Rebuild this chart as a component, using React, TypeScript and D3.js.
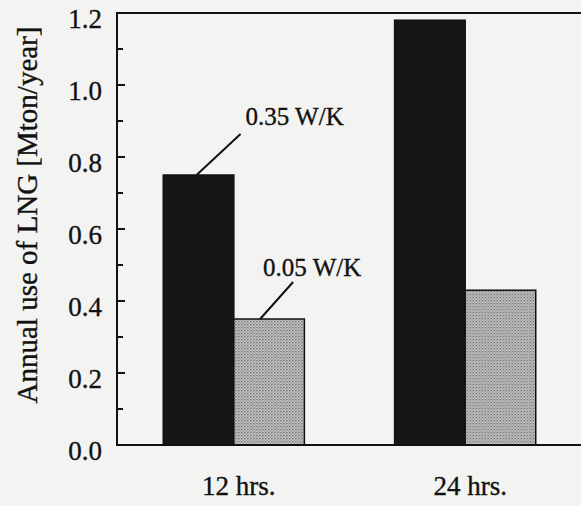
import React, { useEffect, useRef } from 'react'
import * as d3 from 'd3'

const categories = ['12 hrs.', '24 hrs.']
const seriesNames = ['0.35 W/K', '0.05 W/K']
const highK = [0.75, 1.18]
const lowK = [0.35, 0.43]
const yTicks = [0, 0.2, 0.4, 0.6, 0.8, 1.0, 1.2]
const yMinorTicks = [0.1, 0.3, 0.5, 0.7, 0.9, 1.1]

const W = 581
const H = 506
const margin = { top: 13, right: -1, bottom: 61, left: 117 }
const font = '"Liberation Serif", "Times New Roman", serif'

const App = () => {
  const ref = useRef<SVGSVGElement>(null)

  useEffect(() => {
    const svg = d3.select(ref.current)
    svg.selectAll('*').remove()

    const x0 = d3
      .scaleBand()
      .domain(categories)
      .range([margin.left, W - margin.right])
      .paddingInner(0.39)
      .paddingOuter(0.2)
    const x1 = d3.scaleBand().domain(seriesNames).range([0, x0.bandwidth()])
    const y = d3
      .scaleLinear()
      .domain([0, 1.2])
      .range([H - margin.bottom, margin.top])

    // background paper
    svg.append('rect').attr('width', W).attr('height', H).attr('fill', '#f3f3f1')

    const defs = svg.append('defs')
    const pat = defs
      .append('pattern')
      .attr('id', 'dots')
      .attr('width', 3)
      .attr('height', 3)
      .attr('patternUnits', 'userSpaceOnUse')
    pat.append('rect').attr('width', 3).attr('height', 3).attr('fill', '#d2d2d2')
    pat.append('rect').attr('width', 1.3).attr('height', 1.3).attr('fill', '#555')
    pat.append('rect').attr('x', 1.5).attr('y', 1.5).attr('width', 1.3).attr('height', 1.3).attr('fill', '#777')

    // bars
    const rows = categories.map((c, i) => ({ cat: c, vals: [highK[i], lowK[i]] }))
    const g = svg
      .append('g')
      .selectAll('g')
      .data(rows)
      .enter()
      .append('g')
      .attr('transform', d => 'translate(' + x0(d.cat) + ',0)')

    g.selectAll('rect')
      .data(d => d.vals.map((v, j) => ({ v, s: seriesNames[j] })))
      .enter()
      .append('rect')
      .attr('x', d => x1(d.s))
      .attr('y', d => y(d.v))
      .attr('width', x1.bandwidth())
      .attr('height', d => y(0) - y(d.v))
      .attr('fill', d => (d.s === seriesNames[0] ? '#161616' : 'url(#dots)'))
      .attr('stroke', '#111')
      .attr('stroke-width', 1.5)

    // frame: left, top, bottom
    svg
      .append('path')
      .attr('stroke', '#111')
      .attr('stroke-width', 2)
      .attr('fill', 'none')
      .attr('d', 'M' + (W + 2) + ',' + y(1.2) + 'H' + margin.left + 'V' + y(0) + 'H' + (W + 2))

    // ticks (inward)
    const ax = svg.append('g').attr('stroke', '#111').attr('stroke-width', 2)
    ax.selectAll('line.major')
      .data(yTicks)
      .enter()
      .append('line')
      .attr('x1', margin.left)
      .attr('x2', margin.left + 8)
      .attr('y1', d => y(d))
      .attr('y2', d => y(d))
    ax.selectAll('line.minor')
      .data(yMinorTicks)
      .enter()
      .append('line')
      .attr('x1', margin.left)
      .attr('x2', margin.left + 6)
      .attr('y1', d => y(d))
      .attr('y2', d => y(d))

    const txt = (sel: any, size: number) =>
      sel
        .style('font-family', font)
        .style('font-size', size + 'px')
        .attr('fill', '#111')
        .attr('stroke', '#111')
        .attr('stroke-width', 0.35)

    txt(
      svg
        .append('g')
        .selectAll('text')
        .data(yTicks)
        .enter()
        .append('text')
        .attr('x', margin.left - 15)
        .attr('y', d => y(d) + 15)
        .attr('text-anchor', 'end')
        .text(d => d3.format('.1f')(d)),
      27
    )

    // category labels
    txt(
      svg
        .append('g')
        .selectAll('text')
        .data(categories)
        .enter()
        .append('text')
        .attr('x', d => (x0(d) as number) + x0.bandwidth() / 2 + 5)
        .attr('y', H - 11)
        .attr('text-anchor', 'middle')
        .text(d => d),
      27
    )

    // y title
    txt(
      svg
        .append('text')
        .attr('transform', 'translate(37,' + (y(0.6) - 14) + ') rotate(-90)')
        .attr('text-anchor', 'middle')
        .text('Annual use of LNG [Mton/year]'),
      29
    )

    // series annotations on the first group
    const first = categories[0]
    const annot = [
      { s: seriesNames[0], v: highK[0], dx0: -2, dx: 44, dy: -41, tx: 5, ty: -9 },
      { s: seriesNames[1], v: lowK[0], dx0: -9, dx: 33, dy: -37, tx: -30, ty: -6 }
    ]
    annot.forEach(a => {
      const bx = (x0(first) as number) + (x1(a.s) as number) + x1.bandwidth() / 2 + a.dx0
      const by = y(a.v)
      svg
        .append('line')
        .attr('x1', bx)
        .attr('y1', by)
        .attr('x2', bx + a.dx)
        .attr('y2', by + a.dy)
        .attr('stroke', '#111')
        .attr('stroke-width', 2)
      txt(
        svg
          .append('text')
          .attr('x', bx + a.dx + a.tx)
          .attr('y', by + a.dy + a.ty)
          .text(a.s),
        25
      )
    })
  }, [])

  return (
    <svg
      ref={ref}
      width={W}
      height={H}
      style={{ position: 'absolute', left: 0, top: 0, display: 'block' }}
    />
  )
}

export default App
